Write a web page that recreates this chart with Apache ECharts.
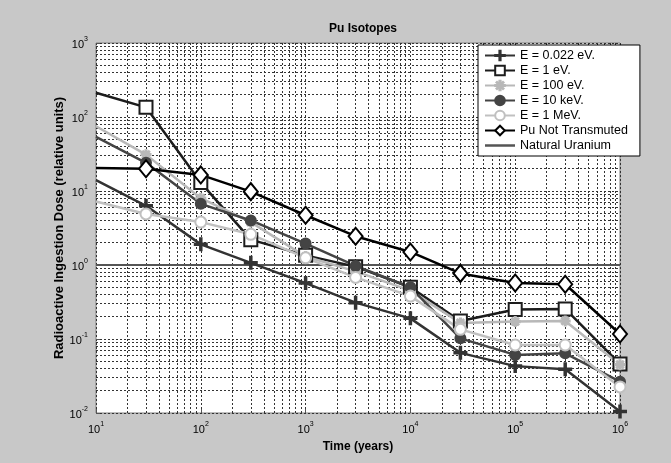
<!DOCTYPE html>
<html>
<head>
<meta charset="utf-8">
<script src="https://cdn.jsdelivr.net/npm/echarts@6/dist/echarts.min.js"></script>
<style>
  html, body { margin: 0; padding: 0; background: #c8c8c8; }
  #main { width: 671px; height: 463px; }
</style>
</head>
<body>
<div id="main"></div>
<script>
// time points (years)
const years = [10, 30, 100, 300, 1000, 3000, 1e4, 3e4, 1e5, 3e5, 1e6];
// dose per series
const e0022 = [14, 6.3, 1.9, 1.07, 0.57, 0.31, 0.19, 0.065, 0.043, 0.039, 0.0105];
const e1 = [213, 135, 13, 2.2, 1.35, 0.95, 0.5, 0.175, 0.25, 0.255, 0.046];
const e100 = [75, 31, 8, 3.8, 1.3, 0.82, 0.45, 0.165, 0.172, 0.175, 0.045];
const e10k = [54, 24, 6.7, 4.0, 1.95, 0.97, 0.5, 0.102, 0.061, 0.064, 0.0265];
const e1M = [7.2, 4.9, 3.8, 2.6, 1.25, 0.68, 0.38, 0.135, 0.083, 0.083, 0.0225];
const puNT = [20.5, 20, 16.5, 9.8, 4.7, 2.45, 1.5, 0.77, 0.57, 0.55, 0.117];
const natU = 1;
// axis decades (exponents)
const xDecades = [1, 2, 3, 4, 5];
const yDecades = [-2, -1, 0, 1, 2];
const minorSteps = [2, 3, 4, 5, 6, 7, 8, 9];

// first point (left edge) has no marker, like the original
const pair = arr => years.map((t, i) => i === 0 ? { value: [t, arr[i]], symbol: 'none' } : [t, arr[i]]);

const minorX = [];
xDecades.forEach(d => minorSteps.forEach(m => minorX.push({ xAxis: m * Math.pow(10, d) })));
const minorY = [];
yDecades.forEach(d => minorSteps.forEach(m => minorY.push({ yAxis: m * Math.pow(10, d) })));

const plusPath = 'path://M-1,-8 L1,-8 L1,-1 L8,-1 L8,1 L1,1 L1,8 L-1,8 L-1,1 L-8,1 L-8,-1 L-1,-1 Z';
const starPath = 'path://M-1,-8 L1,-8 L1,-2 L5,-6 L6,-5 L2,-1 L8,-1 L8,1 L2,1 L6,5 L5,6 L1,2 L1,8 L-1,8 L-1,2 L-5,6 L-6,5 L-2,1 L-8,1 L-8,-1 L-2,-1 L-6,-5 L-5,-6 L-1,-2 Z';

const font = 'Liberation Sans';
const powLabel = v => {
  const e = Math.round(Math.log10(v));
  return '{b|10}{s|' + e + '}';
};
const rich = {
  b: { fontFamily: font, fontSize: 11, color: '#000', verticalAlign: 'bottom', lineHeight: 14 },
  s: { fontFamily: font, fontSize: 7, color: '#000', verticalAlign: 'top', lineHeight: 14, padding: [0, 0, 8, 0] }
};
const gridLine = { color: '#333', width: 1, type: [2, 2] };

function lineSeries(name, data, color, symbol, size) {
  return {
    name: name,
    type: 'line',
    data: pair(data),
    symbol: symbol,
    symbolSize: size,
    showAllSymbol: true,
    lineStyle: { color: color, width: 2.5 },
    itemStyle: { color: color, borderColor: color, borderWidth: 2 },
    z: 3
  };
}

const chart = echarts.init(document.getElementById('main'), null, { renderer: 'canvas' });
chart.setOption({
  animation: false,
  backgroundColor: '#c8c8c8',
  title: {
    text: 'Pu Isotopes',
    left: 358, top: 18, textAlign: 'center',
    textStyle: { fontFamily: font, fontSize: 12, fontWeight: 'bold', color: '#000' }
  },
  grid: {
    left: 96, right: 51, top: 43, bottom: 50,
    show: true, backgroundColor: '#fff', borderColor: '#808080', borderWidth: 1
  },
  legend: {
    orient: 'vertical',
    left: 478, top: 45, z: 10,
    data: [
      'E = 0.022 eV.', 'E = 1 eV.', 'E = 100 eV.', 'E = 10 keV.', 'E = 1 MeV.', 'Pu Not Transmuted',
      { name: 'Natural Uranium', icon: 'path://M0,0 L30,0 L30,2.5 L0,2.5 Z', itemStyle: { color: '#555' } }
    ],
    backgroundColor: '#fff', borderColor: '#000', borderWidth: 1,
    padding: [4, 12, 4, 6],
    itemGap: 2, itemWidth: 30, itemHeight: 12,
    textStyle: { fontFamily: font, fontSize: 12.5, color: '#000' }
  },
  xAxis: {
    type: 'log', logBase: 10, min: 10, max: 1e6,
    name: 'Time (years)', nameLocation: 'middle', nameGap: 21,
    nameTextStyle: { fontFamily: font, fontSize: 12, fontWeight: 'bold', color: '#000' },
    axisLine: { show: false },
    axisTick: { inside: true, length: 4, lineStyle: { color: '#555' } },
    axisLabel: { formatter: powLabel, rich: rich, margin: 8 },
    splitLine: { show: true, lineStyle: gridLine }
  },
  yAxis: {
    type: 'log', logBase: 10, min: 0.01, max: 1000,
    name: 'Radioactive Ingestion Dose (relative units)', nameLocation: 'middle',
    nameGap: 30, nameMoveOverlap: false,
    nameTextStyle: { fontFamily: font, fontSize: 13, fontWeight: 'bold', color: '#000' },
    axisLine: { show: false },
    axisTick: { inside: true, length: 4, lineStyle: { color: '#555' } },
    axisLabel: { formatter: powLabel, rich: rich, margin: 8 },
    splitLine: { show: true, lineStyle: gridLine }
  },
  series: [
    {
      name: 'grid', type: 'line', data: [], silent: true, z: 1,
      markLine: {
        silent: true, z: 1, symbol: ['none', 'none'], label: { show: false },
        lineStyle: gridLine,
        data: minorX.concat(minorY)
      }
    },
    {
      name: 'Natural Uranium', type: 'line', symbol: 'none',
      data: [[years[0], natU], [years[years.length - 1], natU]],
      lineStyle: { color: '#555', width: 2 }, itemStyle: { color: '#555' }, z: 2
    },
    lineSeries('E = 0.022 eV.', e0022, '#333', plusPath, 12),
    lineSeries('E = 1 eV.', e1, '#1c1c1c', 'emptyRect', 13),
    lineSeries('E = 100 eV.', e100, '#b8b8b8', starPath, 9),
    lineSeries('E = 10 keV.', e10k, '#444', 'circle', 10),
    lineSeries('E = 1 MeV.', e1M, '#c0c0c0', 'emptyCircle', 11),
    lineSeries('Pu Not Transmuted', puNT, '#000', 'emptyDiamond', [14, 17])
  ]
});
</script>
</body>
</html>
